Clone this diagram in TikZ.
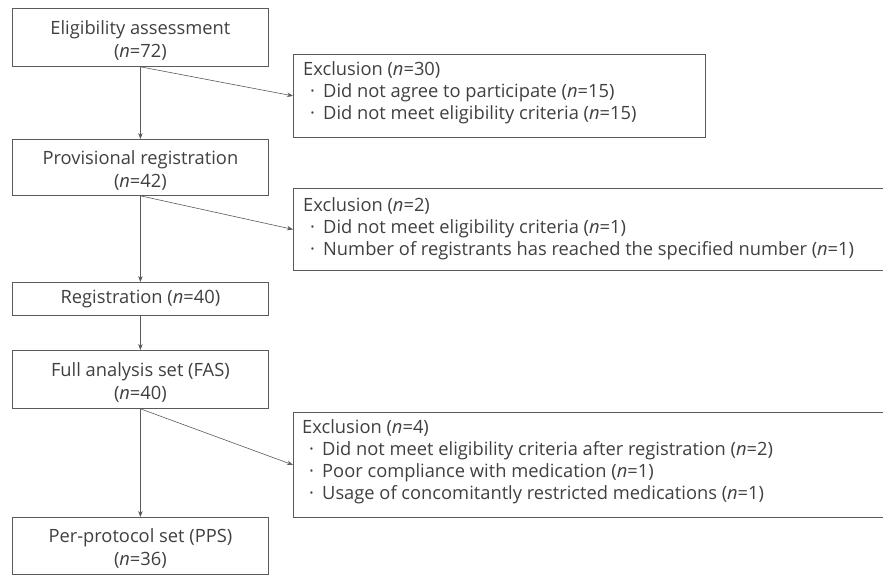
\documentclass[tikz,border=0pt]{standalone}
\usepackage{fontspec}
\setmainfont{Open Sans}
\usetikzlibrary{arrows.meta}
\definecolor{txt}{HTML}{404040}
\definecolor{ln}{HTML}{5A5A5A}
\newcommand{\bul}{\hspace*{7pt}\makebox[13pt][l]{·}}
\begin{document}
\begin{tikzpicture}[x=1pt,y=-1pt,
 mainbox/.style={draw=ln, line width=0.8pt, text=txt, minimum width=256pt, align=center, font=\fontsize{18.3}{23}\selectfont, inner sep=0pt, anchor=north west},
 exbox/.style={draw=ln, line width=0.8pt, inner sep=0pt, anchor=north west},
 extext/.style={text=txt, align=left, font=\fontsize{18.3}{22}\selectfont, inner sep=0pt, anchor=north west},
 conn/.style={draw=ln, line width=0.6pt, -{Stealth[length=6pt,width=4.5pt]}}]
\useasboundingbox (0,0) rectangle (883,575);
\fill[white] (0,0) rectangle (883,575);
% main boxes
\node[mainbox, minimum height=58pt] (elig) at (12,8) {\rule{0pt}{20pt}Eligibility assessment\\(\textit{n}=72)};
\node[mainbox, minimum height=56pt] (prov) at (12,139) {\rule{0pt}{20pt}Provisional registration\\(\textit{n}=42)};
\node[mainbox, minimum height=33pt] (reg) at (12,282) {Registration (\textit{n}=40)};
\node[mainbox, minimum height=58pt] (fas) at (12,350) {\rule{0pt}{20pt}Full analysis set (FAS)\\(\textit{n}=40)};
\node[mainbox, minimum height=57pt] (pps) at (12,517) {\rule{0pt}{20pt}Per-protocol set (PPS)\\(\textit{n}=36)};
% exclusion boxes
\node[exbox, minimum width=412pt, minimum height=83pt] (ex1) at (293,54) {};
\node[exbox, minimum width=600pt, minimum height=82pt] (ex2) at (293,188) {};
\node[exbox, minimum width=600pt, minimum height=105pt] (ex3) at (293,412) {};
\node[extext] (t1) at (303,61) {Exclusion (\textit{n}=30)\\\bul Did not agree to participate (\textit{n}=15)\\\bul Did not meet eligibility criteria (\textit{n}=15)};
\node[extext] (t2) at (303,197) {Exclusion (\textit{n}=2)\\\bul Did not meet eligibility criteria (\textit{n}=1)\\\bul Number of registrants has reached the specified number (\textit{n}=1)};
\node[extext] (t3) at (302,419) {Exclusion (\textit{n}=4)\\\bul Did not meet eligibility criteria after registration (\textit{n}=2)\\\bul Poor compliance with medication (\textit{n}=1)\\\bul Usage of concomitantly restricted medications (\textit{n}=1)};
% connectors
\draw[conn] (elig.south) -- (prov.north);
\draw[conn] (elig.south) -- (ex1.west);
\draw[conn] (prov.south) -- (reg.north);
\draw[conn] (prov.south) -- (ex2.west);
\draw[conn] (reg.south) -- (fas.north);
\draw[conn] (fas.south) -- (pps.north);
\draw[conn] (fas.south) -- (ex3.west);
\end{tikzpicture}
\end{document}
